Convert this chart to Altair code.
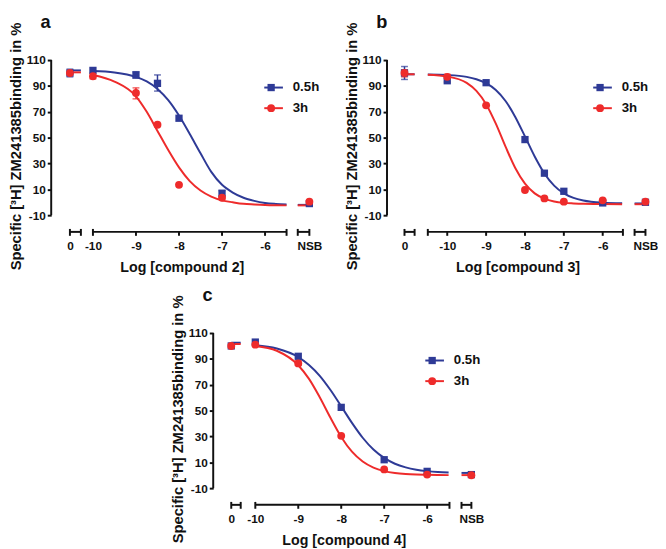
import altair as alt
import pandas as pd

BLUE = "#2E3A96"
RED = "#EE2B2B"
FONT = "Liberation Sans"
SERIES = ["0.5h", "3h"]
Y_TITLE = "Specific [³H] ZM241385binding in %"
Y_TICKS = [-10, 10, 30, 50, 70, 90, 110]
Y_DOMAIN = [-22.9, 110]
PLOT_H = 175

# ---------------- panel a : compound 2 ----------------
A_TITLE = "Log [compound 2]"
A_TICK_POS = [-10.535, -10, -9, -8, -7, -6, -4.97]
A_TICK_LABELS = ["0", "-10", "-9", "-8", "-7", "-6", "NSB"]
A_SEGMENTS = [[-10.535, -10.28], [-10, -5.5], [-5.24, -4.97]]
A_X_DOMAIN = [-10.97, -4.9]
A_PT_X = [-10.535, -10, -9, -8.5, -8, -7, -4.97]
A_BLUE = [100, 102, 98.5, 92, 65, 7, -1]
A_BLUE_LO = [97, None, 96, 86, None, 5, None]
A_BLUE_HI = [103, None, 101, 98.5, None, 9, None]
A_RED = [100, 97.5, 84.5, 60, 13.5, 3.5, 0.5]
A_RED_LO = [None, 95.5, 80, None, None, None, None]
A_RED_HI = [None, 100, 88.5, None, None, None, None]
A_CURVE_X = [-10, -9.5, -9, -8.75, -8.5, -8.25, -8, -7.75, -7.5, -7.25, -7, -6.75, -6.5, -6.25, -6, -5.75, -5.5]
A_CURVE_BLUE = [101.5, 100.4, 97.0, 93.5, 87.7, 79.0, 67.1, 52.8, 37.9, 23.5, 13.5, 7.5, 3.5, 1.1, -0.5, -1.3, -1.8]
A_CURVE_RED = [98.5, 93.4, 82.0, 70.0, 55.2, 40.4, 27.0, 16.4, 9.1, 4.4, 1.5, 0.0, -1.2, -1.7, -2.1, -2.3, -2.4]
A_SIDE_BLUE = [102, -2.0]
A_SIDE_RED = [100.5, -2.4]

# ---------------- panel b : compound 3 ----------------
B_TITLE = "Log [compound 3]"
B_TICK_POS = [-11.1, -10, -9, -8, -7, -6, -4.9]
B_TICK_LABELS = ["0", "-10", "-9", "-8", "-7", "-6", "NSB"]
B_SEGMENTS = [[-11.1, -10.84], [-10.5, -5.48], [-5.18, -4.9]]
B_X_DOMAIN = [-11.55, -4.83]
B_PT_X = [-11.1, -10, -9, -8, -7.5, -7, -6, -4.9]
B_BLUE = [100, 94, 92.5, 48.5, 22.5, 8.5, -0.5, 0]
B_BLUE_LO = [95, None, None, None, None, None, None, None]
B_BLUE_HI = [105, None, None, None, None, None, None, None]
B_RED = [100, 97, 75, 9.5, 3, 0.5, 1.5, 0.5]
B_RED_LO = [97, 93, None, None, None, None, None, None]
B_RED_HI = [102.5, 99, None, None, None, None, None, None]
B_CURVE_X = [-10.5, -10, -9.5, -9.25, -9, -8.75, -8.5, -8.25, -8, -7.75, -7.5, -7.25, -7, -6.75, -6.5, -6, -5.5]
B_CURVE_BLUE = [98.8, 98.4, 97.0, 95.2, 92.1, 86.8, 78.3, 66.0, 50.9, 35.4, 22.3, 12.9, 6.9, 3.4, 1.4, -0.3, -0.8]
B_CURVE_RED = [98.6, 97.3, 92.4, 86.2, 75.9, 60.8, 43.0, 26.5, 14.4, 6.9, 2.8, 0.6, -0.45, -0.9, -1.2, -1.4, -1.5]
B_SIDE_BLUE = [99, -0.9]
B_SIDE_RED = [99, -1.5]

# ---------------- panel c : compound 4 ----------------
C_TITLE = "Log [compound 4]"
C_TICK_POS = [-10.56, -10, -9, -8, -7, -6, -4.97]
C_TICK_LABELS = ["0", "-10", "-9", "-8", "-7", "-6", "NSB"]
C_SEGMENTS = [[-10.56, -10.34], [-10, -5.48], [-5.2, -4.97]]
C_X_DOMAIN = [-10.98, -4.9]
C_PT_X = [-10.56, -10, -9, -8, -7, -6, -4.97]
C_BLUE = [100, 103, 92, 52.5, 12, 3, 0.5]
C_BLUE_LO = [None] * 7
C_BLUE_HI = [None] * 7
C_RED = [100, 101, 86.5, 30.5, 4.5, 0.5, 0]
C_RED_LO = [None, None, 85, None, None, None, None]
C_RED_HI = [None, None, 88.5, None, None, None, None]
C_CURVE_X = [-10, -9.5, -9, -8.75, -8.5, -8.25, -8, -7.75, -7.5, -7.25, -7, -6.75, -6.5, -6.25, -6, -5.75, -5.5]
C_CURVE_BLUE = [100.5, 98.0, 91.4, 85.3, 76.9, 65.9, 53.3, 40.5, 29.0, 19.9, 13.4, 8.9, 6.1, 4.3, 3.2, 2.5, 2.1]
C_CURVE_RED = [100.0, 96.3, 85.1, 74.5, 60.3, 44.4, 29.6, 18.2, 10.6, 5.9, 3.2, 1.7, 0.9, 0.5, 0.3, 0.15, 0.1]
C_SIDE_BLUE = [102.5, 1.8]
C_SIDE_RED = [101.5, 0.1]


def label_expr(pos, labels):
    parts = [f"abs(datum.value - ({p})) < 0.001 ? '{l}'" for p, l in zip(pos, labels)]
    return " : ".join(parts) + " : ''"


def panel(letter, title, tick_pos, tick_labels, segments, x_domain, pt_x,
          blue, blue_lo, blue_hi, red, red_lo, red_hi,
          curve_x, curve_blue, curve_red, side_blue, side_red,
          width, legend_x):
    xs = alt.Scale(domain=x_domain, nice=False, zero=False)
    ys = alt.Scale(domain=Y_DOMAIN, nice=False, zero=False)
    xaxis = alt.Axis(values=tick_pos, labelExpr=label_expr(tick_pos, tick_labels),
                     domain=False, ticks=False, grid=False, title=title,
                     labelFont=FONT, labelFontWeight="bold", labelFontSize=12,
                     labelColor="#111", labelPadding=9, labelFlush=False,
                     labelOverlap=False,
                     titleFont=FONT, titleFontWeight="bold", titleFontSize=14.5,
                     titleColor="#111", titlePadding=9)
    yaxis = alt.Axis(values=Y_TICKS, labelExpr="'' + datum.value", domain=False,
                     ticks=True, tickSize=4, tickWidth=2, tickColor="#111",
                     grid=False, title=Y_TITLE,
                     labelFont=FONT, labelFontWeight="bold", labelFontSize=12,
                     labelColor="#111", labelPadding=2,
                     titleFont=FONT, titleFontWeight="bold", titleFontSize=15,
                     titleColor="#111", titlePadding=3)
    color = alt.Color("series:N", scale=alt.Scale(domain=SERIES, range=[BLUE, RED]), legend=None)

    # points
    rows = []
    for s, ys_, los, his in [("0.5h", blue, blue_lo, blue_hi), ("3h", red, red_lo, red_hi)]:
        for x, y, lo, hi in zip(pt_x, ys_, los, his):
            rows.append({"x": x, "y": y, "lo": lo, "hi": hi, "series": s})
    pts = pd.DataFrame(rows)
    err = pts.dropna(subset=["lo"])

    # fitted curves (main segment + plateau pieces in the broken segments)
    crow = []
    for s, cv, side in [("0.5h", curve_blue, side_blue), ("3h", curve_red, side_red)]:
        for x, y in zip(curve_x, cv):
            crow.append({"x": x, "y": y, "series": s, "seg": s + "main"})
        for x in segments[0]:
            crow.append({"x": x, "y": side[0], "series": s, "seg": s + "zero"})
        for x in segments[2]:
            crow.append({"x": x, "y": side[1], "series": s, "seg": s + "nsb"})
    curves = pd.DataFrame(crow)

    seg_df = pd.DataFrame({"x": [s[0] for s in segments], "x2": [s[1] for s in segments]})
    ends = [v for s in segments for v in s]
    inner = [p for p in tick_pos if all(abs(p - e) > 1e-6 for e in ends)]
    caps_df = pd.DataFrame({"x": ends})
    ticks_df = pd.DataFrame({"x": inner})

    X = lambda f="x:Q": alt.X(f, scale=xs, axis=xaxis)
    Y = lambda f="y:Q": alt.Y(f, scale=ys, axis=yaxis)

    base_curves = alt.Chart(curves).mark_line(strokeWidth=2, interpolate="monotone").encode(
        x=X(), y=Y(), color=color, detail="seg:N")

    yline = alt.Chart(pd.DataFrame({"a": [0]})).mark_rule(strokeWidth=2, color="#111").encode(
        x=alt.value(0), y=alt.Y(datum=Y_TICKS[0], scale=ys, axis=yaxis),
        y2=alt.Y2(datum=Y_TICKS[-1]))
    xsegs = alt.Chart(seg_df).mark_rule(strokeWidth=2, color="#111").encode(
        x=X(), x2="x2:Q", y=alt.value(PLOT_H))
    xcaps = alt.Chart(caps_df).mark_rule(strokeWidth=2, color="#111").encode(
        x=X(), y=alt.value(PLOT_H - 3), y2=alt.value(PLOT_H + 4))
    xticks = alt.Chart(ticks_df).mark_rule(strokeWidth=2, color="#111").encode(
        x=X(), y=alt.value(PLOT_H), y2=alt.value(PLOT_H + 4))

    err_rule = alt.Chart(err).mark_rule(strokeWidth=1.5).encode(
        x=X(), y=Y("lo:Q"), y2="hi:Q", color=color)
    err_lo = alt.Chart(err).mark_tick(orient="horizontal", size=7, thickness=1.5).encode(
        x=X(), y=Y("lo:Q"), color=color)
    err_hi = alt.Chart(err).mark_tick(orient="horizontal", size=7, thickness=1.5).encode(
        x=X(), y=Y("hi:Q"), color=color)

    blue_pts = alt.Chart(pts[pts.series == "0.5h"]).mark_point(
        shape="square", filled=True, size=55, opacity=1).encode(x=X(), y=Y(), color=color)
    red_pts = alt.Chart(pts[pts.series == "3h"]).mark_point(
        shape="circle", filled=True, size=64, opacity=1).encode(x=X(), y=Y(), color=color)

    # legend
    leg = []
    for i, (s, col, shp) in enumerate([("0.5h", BLUE, "square"), ("3h", RED, "circle")]):
        ly = 28 + 21 * i
        one = pd.DataFrame({"series": [s]})
        leg.append(alt.Chart(one).mark_rule(strokeWidth=2, color=col).encode(
            x=alt.value(legend_x), x2=alt.value(legend_x + 19), y=alt.value(ly)))
        leg.append(alt.Chart(one).mark_point(shape=shp, filled=True, opacity=1, color=col,
                                            size=55 if shp == "square" else 64).encode(
            x=alt.value(legend_x + 7), y=alt.value(ly)))
        leg.append(alt.Chart(one).mark_text(align="left", baseline="middle", font=FONT,
                                           fontWeight="bold", fontSize=13.5, color="#111").encode(
            x=alt.value(legend_x + 29), y=alt.value(ly), text="series:N"))

    letter_mark = alt.Chart(pd.DataFrame({"t": [letter]})).mark_text(
        align="left", baseline="alphabetic", font=FONT, fontWeight="bold", fontSize=18.5,
        color="#111").encode(x=alt.value(-11), y=alt.value(-33), text="t:N")

    layers = [yline, xsegs, xcaps, xticks, base_curves, err_rule, err_lo, err_hi,
              blue_pts, red_pts, letter_mark] + leg
    return alt.layer(*layers).properties(width=width, height=PLOT_H)


pa = panel("a", A_TITLE, A_TICK_POS, A_TICK_LABELS, A_SEGMENTS, A_X_DOMAIN, A_PT_X,
           A_BLUE, A_BLUE_LO, A_BLUE_HI, A_RED, A_RED_LO, A_RED_HI,
           A_CURVE_X, A_CURVE_BLUE, A_CURVE_RED, A_SIDE_BLUE, A_SIDE_RED, 266, 217)
pb = panel("b", B_TITLE, B_TICK_POS, B_TICK_LABELS, B_SEGMENTS, B_X_DOMAIN, B_PT_X,
           B_BLUE, B_BLUE_LO, B_BLUE_HI, B_RED, B_RED_LO, B_RED_HI,
           B_CURVE_X, B_CURVE_BLUE, B_CURVE_RED, B_SIDE_BLUE, B_SIDE_RED, 266, 210)
pc = panel("c", C_TITLE, C_TICK_POS, C_TICK_LABELS, C_SEGMENTS, C_X_DOMAIN, C_PT_X,
           C_BLUE, C_BLUE_LO, C_BLUE_HI, C_RED, C_RED_LO, C_RED_HI,
           C_CURVE_X, C_CURVE_BLUE, C_CURVE_RED, C_SIDE_BLUE, C_SIDE_RED, 266, 216)

spacer = alt.Chart(pd.DataFrame({"v": [0]})).mark_point(opacity=0).encode(
    x=alt.X("v:Q", axis=None), y=alt.Y("v:Q", axis=None)).properties(width=165, height=PLOT_H)

top = alt.hconcat(pa, pb, spacing=76, bounds="flush")
bottom = alt.hconcat(spacer, pc, spacing=0, bounds="flush")
chart = alt.vconcat(top, bottom, spacing=278, bounds="flush").properties(
    padding=0).configure_view(stroke=None)

chart.save("out.html", embed_options={"renderer": "svg", "actions": False})
